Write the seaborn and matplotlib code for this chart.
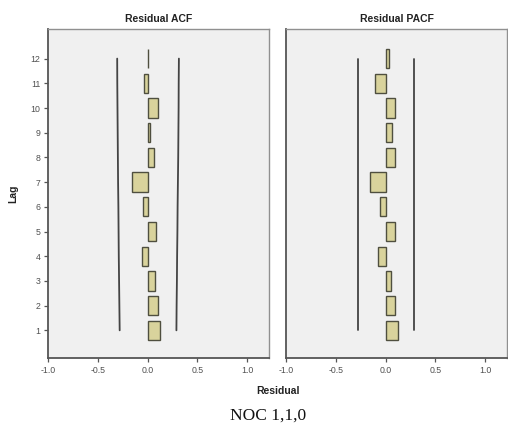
"""Residual ACF / PACF panels (SPSS-style) for NOC 1,1,0."""

import matplotlib.pyplot as plt
import seaborn as sns

# Data
lags = [1, 2, 3, 4, 5, 6, 7, 8, 9, 10, 11, 12]
acf_values = [0.13, 0.10, 0.07, -0.06, 0.08, -0.05, -0.16, 0.06, 0.02, 0.11, -0.04, 0.008]
pacf_values = [0.13, 0.09, 0.05, -0.08, 0.09, -0.06, -0.16, 0.10, 0.06, 0.10, -0.11, 0.03]
acf_upper = [0.29, 0.292, 0.295, 0.297, 0.30, 0.302, 0.305, 0.308, 0.31, 0.312, 0.313, 0.315]
acf_lower = [-0.28, -0.283, -0.286, -0.289, -0.291, -0.293, -0.296, -0.298, -0.30, -0.302, -0.304, -0.305]
pacf_upper = [0.287] * 12
pacf_lower = [-0.28] * 12
x_ticks = [-1.0, -0.5, 0.0, 0.5, 1.0]

STYLE = {
    "bar_face": "#D9D39C",
    "bar_edge": "#4F4F3F",
    "panel_bg": "#F0F0F0",
    "line": "#444444",
    "tick_color": "#505050",
    "tick_size": 6.3,
    "title_size": 7.5,
}

sns.set_style("white")
plt.rcParams["font.family"] = ["Liberation Sans", "DejaVu Sans"]

fig = plt.figure(figsize=(5.08, 4.29), dpi=100)
ax1 = fig.add_axes([0.0945, 0.1655, 0.435, 0.767])
ax2 = fig.add_axes([0.563, 0.1655, 0.435, 0.767])


def draw_panel(ax, values, upper, lower, title, show_y):
    ax.set_facecolor(STYLE["panel_bg"])
    sns.barplot(
        x=values,
        y=lags,
        orient="y",
        native_scale=True,
        width=0.78,
        color=STYLE["bar_face"],
        edgecolor=STYLE["bar_edge"],
        linewidth=1.0,
        saturation=1,
        ax=ax,
    )
    for lim in (upper, lower):
        sns.lineplot(
            x=lim, y=lags, orient="y", sort=False,
            color=STYLE["line"], linewidth=1.3, ax=ax,
        )
    ax.set_xlim(-1.0, 1.22)
    ax.set_ylim(-0.12, 13.2)
    ax.set_xticks(x_ticks)
    ax.set_xticklabels([f"{t:.1f}" for t in x_ticks])
    ax.set_yticks(lags)
    ax.tick_params(
        axis="both", length=3, width=0.9, color="#555555",
        labelsize=STYLE["tick_size"], labelcolor=STYLE["tick_color"], pad=2.5,
    )
    ax.tick_params(axis="x", bottom=True)
    ax.tick_params(axis="y", left=show_y, labelleft=show_y)
    for side, sp in ax.spines.items():
        sp.set_visible(True)
        sp.set_color("#909090")
        sp.set_linewidth(1.0)
    ax.spines["left"].set_color("#555555")
    ax.spines["bottom"].set_color("#555555")
    ax.spines["left"].set_linewidth(1.3)
    ax.spines["bottom"].set_linewidth(1.3)
    ax.set_xlabel("")
    ax.set_ylabel("")
    ax.set_title(title, fontsize=STYLE["title_size"], weight="bold", pad=5, color="#222222")


draw_panel(ax1, acf_values, acf_upper, acf_lower, "Residual ACF", True)
draw_panel(ax2, pacf_values, pacf_upper, pacf_lower, "Residual PACF", False)

ax1.set_ylabel("Lag", fontsize=7.5, weight="bold", labelpad=9, color="#222222")
fig.text(0.548, 0.088, "Residual", ha="center", va="center",
         fontsize=7.5, weight="bold", color="#222222")
fig.text(0.528, 0.032, "NOC 1,1,0", ha="center", va="center",
         fontsize=12.5, family=["Liberation Serif", "DejaVu Serif"], color="#111111")

fig.savefig("out.png", dpi=100)
